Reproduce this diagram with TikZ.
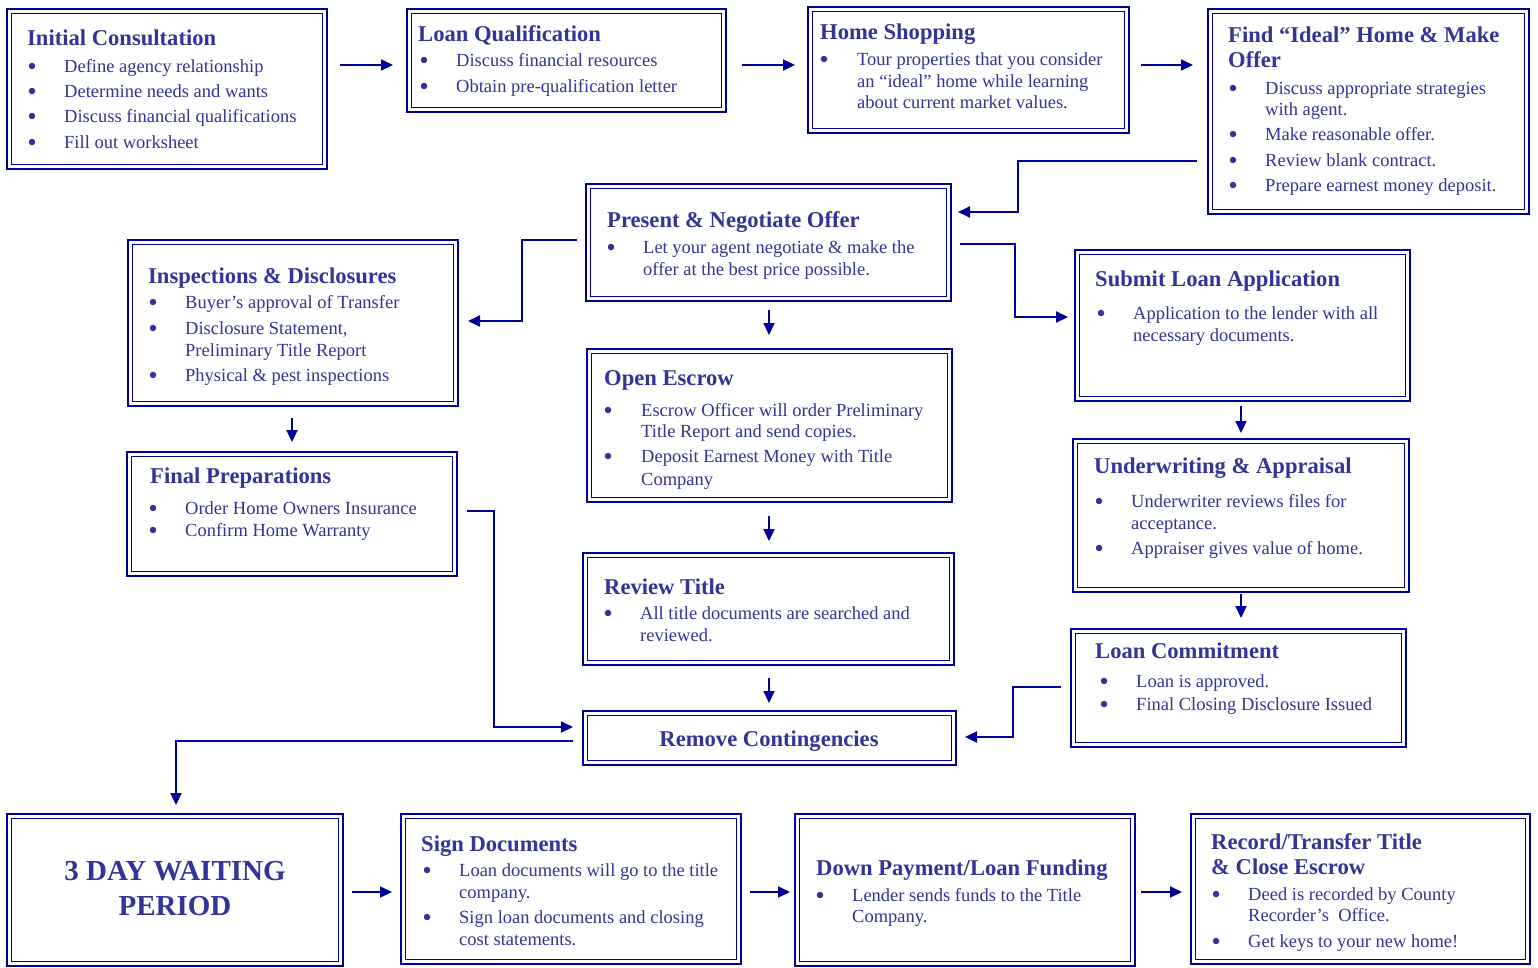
\documentclass[tikz,border=0pt]{standalone}
\usepackage{fontspec}
\setmainfont{Liberation Serif}
\usetikzlibrary{arrows.meta,calc}
\definecolor{bord}{RGB}{0,0,153}
\definecolor{txt}{RGB}{51,51,153}
\newcounter{tn}
\newcommand{\bx}[5]{%
  \node[outerbox, minimum width={#4-#2}, minimum height={#5-#3}, anchor=north west] (#1) at (#2,#3) {};
  \draw[innerline] ([shift={(4.5,4.5)}]#1.north west) rectangle ([shift={(-4.5,-4.5)}]#1.south east);}
\newcommand{\ttl}[3]{\stepcounter{tn}\node[ttlstyle] (t\arabic{tn}) at (#1,#2+7.5) {#3};}
\newcommand{\itm}[4]{\stepcounter{tn}\node[bulstyle] (b\arabic{tn}) at (#1,#3) {};
  \node[bodystyle] (t\arabic{tn}) at (#2,#3+6) {#4};}
\newcommand{\cnt}[3]{\stepcounter{tn}\node[bodystyle] (t\arabic{tn}) at (#1,#2+6) {#3};}
\begin{document}
\begin{tikzpicture}[x=1pt,y=-1pt,
  outerbox/.style={draw=bord, line width=2.5pt, inner sep=0pt, outer sep=0pt, fill=white},
  innerline/.style={draw=bord, line width=1.1pt},
  ttlstyle/.style={anchor=base west, inner sep=0pt, text=txt, font=\fontsize{22.6}{26}\selectfont\bfseries},
  bodystyle/.style={anchor=base west, inner sep=0pt, text=txt, font=\fontsize{18.5}{22}\selectfont},
  bulstyle/.style={circle, fill=txt, inner sep=0pt, minimum size=6.5pt},
  conn/.style={draw=bord, line width=2pt},
  arr/.style={conn, -{Triangle[length=12pt,width=11pt]}}]
\useasboundingbox (0,0) rectangle (1538,967);
\fill[white] (0,0) rectangle (1538,967);

% boxes
\bx{ic}{7}{9}{327}{169}
\bx{lq}{407}{9}{726}{112}
\bx{hs}{808}{7}{1129}{133}
\bx{fi}{1208}{9}{1529}{214}
\bx{pn}{586}{184}{951}{301}
\bx{ins}{128}{240}{458}{406}
\bx{sla}{1075}{250}{1410}{401}
\bx{oe}{587}{349}{952}{502}
\bx{fp}{127}{452}{457}{576}
\bx{ua}{1073}{439}{1409}{592}
\bx{rt}{583}{553}{954}{665}
\bx{lc}{1071}{629}{1406}{747}
\bx{rc}{583}{711}{956}{765}
\bx{wp}{7}{814}{343}{966}
\bx{sd}{401}{814}{741}{964}
\bx{dp}{795}{814}{1135}{966}
\bx{rec}{1191}{814}{1530}{964}

% texts
\ttl{27}{38}{Initial Consultation}
\itm{32}{64}{66}{Define agency relationship}
\itm{32}{64}{91}{Determine needs and wants}
\itm{32}{64}{116}{Discuss financial qualifications}
\itm{32}{64}{142}{Fill out worksheet}

\ttl{418}{34}{Loan Qualification}
\itm{424}{456}{60}{Discuss financial resources}
\itm{424}{456}{86}{Obtain pre-qualification letter}

\ttl{820}{32}{Home Shopping}
\itm{824}{857}{59}{Tour properties that you consider}
\cnt{857}{81}{an “ideal” home while learning}
\cnt{857}{102}{about current market values.}

\ttl{1228}{35}{Find “Ideal” Home \& Make}
\ttl{1228}{60}{Offer}
\itm{1233}{1265}{88}{Discuss appropriate strategies}
\cnt{1265}{109}{with agent.}
\itm{1233}{1265}{134}{Make reasonable offer.}
\itm{1233}{1265}{160}{Review blank contract.}
\itm{1233}{1265}{185}{Prepare earnest money deposit.}

\ttl{607}{220}{Present \& Negotiate Offer}
\itm{611}{643}{247}{Let your agent negotiate \& make the}
\cnt{643}{269}{offer at the best price possible.}

\ttl{148}{276}{Inspections \& Disclosures}
\itm{153}{185}{302}{Buyer’s approval of Transfer}
\itm{153}{185}{328}{Disclosure Statement,}
\cnt{185}{350}{Preliminary Title Report}
\itm{153}{185}{375}{Physical \& pest inspections}

\ttl{1095}{279}{Submit Loan Application}
\itm{1101}{1133}{313}{Application to the lender with all}
\cnt{1133}{335}{necessary documents.}

\ttl{604}{378}{Open Escrow}
\itm{608}{641}{410}{Escrow Officer will order Preliminary}
\cnt{641}{431}{Title Report and send copies.}
\itm{608}{641}{456}{Deposit Earnest Money with Title}
\cnt{641}{479}{Company}

\ttl{150}{476}{Final Preparations}
\itm{153}{185}{508}{Order Home Owners Insurance}
\itm{153}{185}{530}{Confirm Home Warranty}

\ttl{1094}{466}{Underwriting \& Appraisal}
\itm{1099}{1131}{501}{Underwriter reviews files for}
\cnt{1131}{523}{acceptance.}
\itm{1099}{1131}{548}{Appraiser gives value of home.}

\ttl{604}{587}{Review Title}
\itm{608}{640}{613}{All title documents are searched and}
\cnt{640}{635}{reviewed.}

\ttl{1095}{651}{Loan Commitment}
\itm{1104}{1136}{681}{Loan is approved.}
\itm{1104}{1136}{704}{Final Closing Disclosure Issued}

\node[ttlstyle, anchor=base] (rct) at (769,746.5) {Remove Contingencies};

\node[ttlstyle, anchor=base, font=\fontsize{29}{33}\selectfont\bfseries] (wpt1) at (175,880) {3 DAY WAITING};
\node[ttlstyle, anchor=base, font=\fontsize{29}{33}\selectfont\bfseries] (wpt2) at (175,915) {PERIOD};

\ttl{421}{844}{Sign Documents}
\itm{427}{459}{870}{Loan documents will go to the title}
\cnt{459}{892}{company.}
\itm{427}{459}{917}{Sign loan documents and closing}
\cnt{459}{939}{cost statements.}

\ttl{816}{868}{Down Payment/Loan Funding}
\itm{820}{852}{895}{Lender sends funds to the Title}
\cnt{852}{916}{Company.}

\ttl{1211}{842}{Record/Transfer Title}
\ttl{1211}{867}{\& Close Escrow}
\itm{1216}{1248}{894}{Deed is recorded by County}
\cnt{1248}{915}{Recorder’s \ Office.}
\itm{1216}{1248}{941}{Get keys to your new home!}

% connectors
\draw[arr] ([shift={(13,56)}]ic.north east) -- ([shift={(-14,56)}]lq.north west);
\draw[arr] ([shift={(16,56)}]lq.north east) -- ([shift={(-13,58)}]hs.north west);
\draw[arr] ([shift={(12,58)}]hs.north east) -- ([shift={(-15,56)}]fi.north west);
\draw[arr] ([shift={(-11,152)}]fi.north west) -- ++(-179,0) |- ([shift={(7,28)}]pn.north east);
\draw[arr] ([shift={(-9,56)}]pn.north west) -- ++(-55,0) |- ([shift={(10,81)}]ins.north east);
\draw[arr] ([shift={(9,60)}]pn.north east) -- ++(55,0) |- ([shift={(-7,67)}]sla.north west);
\draw[arr] ([shift={(0.5,9)}]pn.south) -- ([shift={(0.5,-14)}]pn.south |- oe.north);
\draw[arr] ([shift={(-1,12)}]ins.south) -- ([shift={(-1,-10)}]ins.south |- fp.north);
\draw[arr] ([shift={(-0.5,14)}]oe.south) -- ([shift={(-0.5,-12)}]oe.south |- rt.north);
\draw[arr] ([shift={(0.5,13)}]rt.south) -- ([shift={(0.5,-8)}]rt.south |- rc.north);
\draw[arr] ([shift={(-1.5,5)}]sla.south) -- ([shift={(-1.5,-6)}]sla.south |- ua.north);
\draw[arr] ([shift={(0,2)}]ua.south) -- ([shift={(0,-11)}]ua.south |- lc.north);
\draw[arr] ([shift={(-10,58)}]lc.north west) -- ++(-48,0) |- ([shift={(9,26)}]rc.north east);
\draw[arr] ([shift={(10,59)}]fp.north east) -- ++(27,0) |- ([shift={(-10,16)}]rc.north west);
\coordinate (bend) at (176,771);
\draw[draw=bord, line width=1.2pt] ([shift={(-10,30)}]rc.north west) -| (bend);
\draw[arr] (bend) -- ([shift={(1,-9)}]wp.north);
\draw[arr] ([shift={(9,78)}]wp.north east) -- ([shift={(-9,78)}]sd.north west);
\draw[arr] ([shift={(9,78)}]sd.north east) -- ([shift={(-5,78)}]dp.north west);
\draw[arr] ([shift={(6,78)}]dp.north east) -- ([shift={(-9,78)}]rec.north west);
\end{tikzpicture}
\end{document}
